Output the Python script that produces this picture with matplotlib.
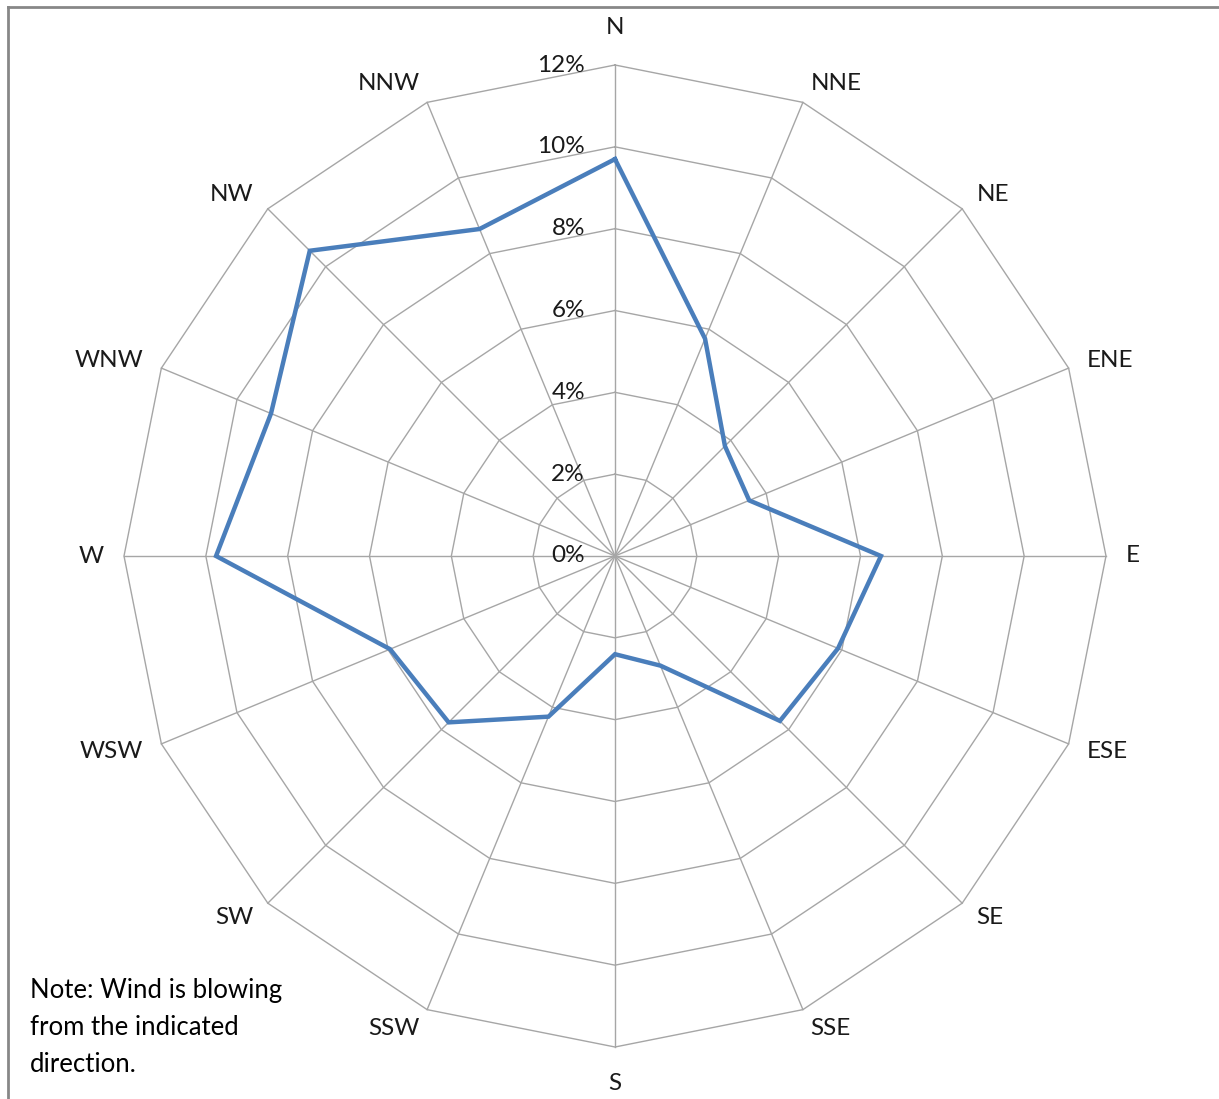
import numpy as np
import matplotlib
matplotlib.use("Agg")
import matplotlib.pyplot as plt
from matplotlib.lines import Line2D

# Wind direction frequencies (% of observations), clockwise from north
directions = ["N", "NNE", "NE", "ENE", "E", "ESE", "SE", "SSE",
              "S", "SSW", "SW", "WSW", "W", "WNW", "NW", "NNW"]
frequency = [9.7, 5.75, 3.8, 3.55, 6.5, 5.9, 5.7, 2.9,
             2.4, 4.25, 5.75, 5.95, 9.75, 9.1, 10.55, 8.65]
rings = [0, 2, 4, 6, 8, 10, 12]
ring_labels = ["0%", "2%", "4%", "6%", "8%", "10%", "12%"]
note_text = "Note: Wind is blowing\nfrom the indicated\ndirection."

plt.rcParams["font.family"] = ["Lato", "DejaVu Sans"]

W, H, DPI = 1219, 1099, 100
fig = plt.figure(figsize=(W / DPI, H / DPI), dpi=DPI)
ax = fig.add_axes([0, 0, 1, 1])

# pixel geometry of the plot area
cx, cy, rpx = 615.0, 556.0, 491.0
scale = rpx / rings[-1]          # pixels per percent
ax.set_xlim(-cx / scale, (W - cx) / scale)
ax.set_ylim(-(H - cy) / scale, cy / scale)
ax.axis("off")

n = len(directions)
theta = np.arange(n) * 2 * np.pi / n   # clockwise from north


def xy(r, t):
    return np.asarray(r) * np.sin(t), np.asarray(r) * np.cos(t)


grid_color = "#a6a6a6"
text_color = "#1a1a1a"
tc = np.append(theta, theta[0])

# polygonal rings
for r in rings[1:]:
    gx, gy = xy(np.full(tc.shape, r), tc)
    ax.plot(gx, gy, color=grid_color, lw=1.0, zorder=1)

# spokes
for t in theta:
    sx, sy = xy([0, rings[-1]], [t, t])
    ax.plot(sx, sy, color=grid_color, lw=1.0, zorder=1)

# data series
vals = np.append(frequency, frequency[0])
px, py = xy(vals, tc)
ax.plot(px, py, color="#4a7ebb", lw=3.2, solid_joinstyle="miter", zorder=3)

# ring value labels along the north spoke
for r, lab in zip(rings, ring_labels):
    ax.text(-30 / scale, r, lab, ha="right", va="center",
            fontsize=17.5, color=text_color, zorder=4)

# direction labels just outside the spoke ends
gap = 20 / scale
for t, lab in zip(theta, directions):
    ex, ey = xy(rings[-1], t)
    s, c = np.sin(t), np.cos(t)
    if abs(s) < 0.01:
        ax.text(ex, ey + np.sign(c) * 37 / scale, lab, ha="center",
                va="center", fontsize=17.5, color=text_color)
    else:
        ax.text(ex + gap * s, ey + gap * c, lab,
                ha="left" if s > 0 else "right", va="center",
                fontsize=17.5, color=text_color)

# note in the lower-left corner
fig.text(30 / W, 1 - 978 / H, note_text, ha="left", va="top",
         fontsize=18.5, color="#000000", linespacing=1.6)

# frame edges (top and left)
fig.add_artist(Line2D([8 / W, 1], [1 - 7 / H, 1 - 7 / H], color="#878787",
                      lw=2.0, transform=fig.transFigure))
fig.add_artist(Line2D([8 / W, 8 / W], [0, 1 - 7 / H], color="#878787",
                      lw=2.0, transform=fig.transFigure))

fig.savefig("out.png", dpi=DPI, facecolor="white")
